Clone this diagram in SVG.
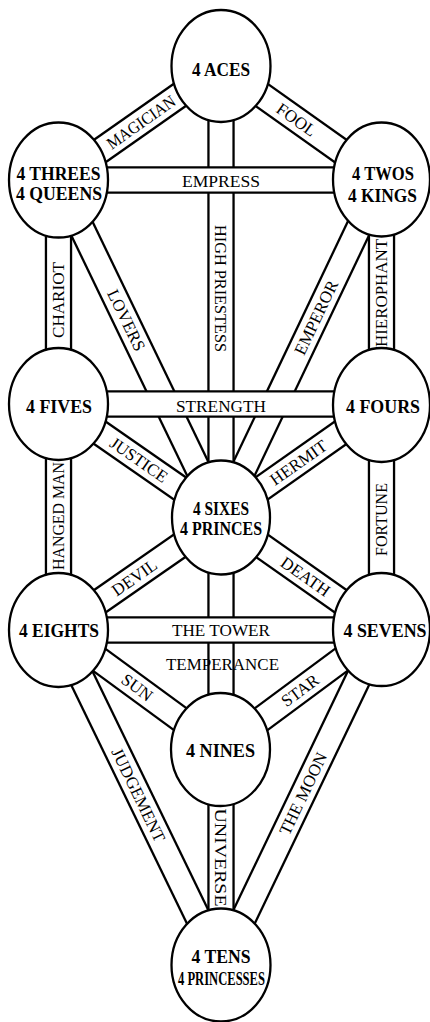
<svg xmlns="http://www.w3.org/2000/svg" width="430" height="1022" viewBox="0 0 430 1022">
<style>
.bo{stroke:#000;stroke-width:27.4;fill:none}
.bi{stroke:#fff;stroke-width:22.8;fill:none}
.n{fill:#fff;stroke:#000;stroke-width:2.3}
.t{font-family:"Liberation Serif","Times New Roman",serif;font-weight:bold;font-size:18px;text-anchor:middle;fill:#000}
.l{font-family:"Liberation Serif","Times New Roman",serif;font-size:17px;text-anchor:middle;fill:#000}
</style>
<defs>
<path id="p-magician" d="M58.5 180L221 66"/>
<path id="p-fool" d="M221 66L381.5 180"/>
<path id="p-priestess" d="M221 66L221 517"/>
<path id="p-emperor" d="M381.5 180L221 517"/>
<path id="p-lovers" d="M58.5 180L221 517"/>
<path id="p-chariot" d="M58.5 180L58.5 404"/>
<path id="p-hierophant" d="M381.5 180L381.5 404"/>
<path id="p-justice" d="M58.5 404L221 517"/>
<path id="p-hermit" d="M381.5 404L221 517"/>
<path id="p-hanged" d="M58.5 404L58.5 630"/>
<path id="p-fortune" d="M381.5 404L381.5 630"/>
<path id="p-devil" d="M58.5 630L221 517"/>
<path id="p-death" d="M381.5 630L221 517"/>
<path id="p-temperance" d="M221 517L221 749"/>
<path id="p-sun" d="M58.5 630L221 749"/>
<path id="p-star" d="M381.5 630L221 749"/>
<path id="p-judgement" d="M58.5 630L221 965"/>
<path id="p-moon" d="M381.5 630L221 965"/>
<path id="p-universe" d="M221 749L221 965"/>
<path id="p-empress" d="M58.5 180L381.5 180"/>
<path id="p-strength" d="M58.5 404L381.5 404"/>
<path id="p-tower" d="M58.5 630L381.5 630"/>
</defs>
<rect width="430" height="1022" fill="#fff"/>
<g id="connectors">
<g id="paths-back">
<use href="#p-magician" class="bo"/><use href="#p-fool" class="bo"/><use href="#p-priestess" class="bo"/><use href="#p-emperor" class="bo"/><use href="#p-lovers" class="bo"/><use href="#p-chariot" class="bo"/><use href="#p-hierophant" class="bo"/><use href="#p-justice" class="bo"/><use href="#p-hermit" class="bo"/><use href="#p-hanged" class="bo"/><use href="#p-fortune" class="bo"/><use href="#p-devil" class="bo"/><use href="#p-death" class="bo"/><use href="#p-temperance" class="bo"/><use href="#p-sun" class="bo"/><use href="#p-star" class="bo"/><use href="#p-judgement" class="bo"/><use href="#p-moon" class="bo"/><use href="#p-universe" class="bo"/>
<use href="#p-magician" class="bi"/><use href="#p-fool" class="bi"/><use href="#p-priestess" class="bi"/><use href="#p-emperor" class="bi"/><use href="#p-lovers" class="bi"/><use href="#p-chariot" class="bi"/><use href="#p-hierophant" class="bi"/><use href="#p-justice" class="bi"/><use href="#p-hermit" class="bi"/><use href="#p-hanged" class="bi"/><use href="#p-fortune" class="bi"/><use href="#p-devil" class="bi"/><use href="#p-death" class="bi"/><use href="#p-temperance" class="bi"/><use href="#p-sun" class="bi"/><use href="#p-star" class="bi"/><use href="#p-judgement" class="bi"/><use href="#p-moon" class="bi"/><use href="#p-universe" class="bi"/>
</g>
<g id="paths-front">
<use href="#p-empress" class="bo"/><use href="#p-empress" class="bi"/>
<use href="#p-strength" class="bo"/><use href="#p-strength" class="bi"/>
<use href="#p-tower" class="bo"/><use href="#p-tower" class="bi"/>
</g>
<g id="connector-labels">
<text class="l" transform="translate(141 122.3) rotate(-35.13)" y="5.8" textLength="80" lengthAdjust="spacingAndGlyphs">MAGICIAN</text>
<text class="l" transform="translate(296.5 119.7) rotate(35.38)" y="5.8">FOOL</text>
<text class="l" x="221" y="186.5" textLength="78" lengthAdjust="spacingAndGlyphs">EMPRESS</text>
<text class="l" transform="translate(221 288.5) rotate(90)" y="5.8" textLength="127" lengthAdjust="spacingAndGlyphs">HIGH PRIESTESS</text>
<text class="l" transform="translate(316 317.5) rotate(-64.53)" y="5.8">EMPEROR</text>
<text class="l" transform="translate(126.4 320.2) rotate(64.33)" y="5.8">LOVERS</text>
<text class="l" transform="translate(58.5 300) rotate(-90)" y="5.8" textLength="76" lengthAdjust="spacingAndGlyphs">CHARIOT</text>
<text class="l" transform="translate(381.5 293) rotate(-90)" y="5.8" textLength="108" lengthAdjust="spacingAndGlyphs">HIEROPHANT</text>
<text class="l" x="221" y="412" textLength="90" lengthAdjust="spacingAndGlyphs">STRENGTH</text>
<text class="l" transform="translate(139 459.8) rotate(34.9)" y="5.8">JUSTICE</text>
<text class="l" transform="translate(298.4 462.5) rotate(-35.15)" y="5.8">HERMIT</text>
<text class="l" transform="translate(58.5 516) rotate(-90)" y="5.8" textLength="108" lengthAdjust="spacingAndGlyphs">HANGED MAN</text>
<text class="l" transform="translate(381.5 519.5) rotate(-90)" y="5.8" textLength="73" lengthAdjust="spacingAndGlyphs">FORTUNE</text>
<text class="l" transform="translate(134.4 577.4) rotate(-34.9)" y="5.8">DEVIL</text>
<text class="l" transform="translate(305.5 576.5) rotate(35.15)" y="5.8">DEATH</text>
<text class="l" x="221" y="635.5" textLength="98" lengthAdjust="spacingAndGlyphs">THE TOWER</text>
<text class="l" x="222.5" y="670" textLength="113" lengthAdjust="spacingAndGlyphs">TEMPERANCE</text>
<text class="l" transform="translate(137.2 687.4) rotate(36.3)" y="5.8">SUN</text>
<text class="l" transform="translate(300 690.4) rotate(-36.55)" y="5.8">STAR</text>
<text class="l" transform="translate(138.5 795) rotate(64.19)" y="5.8">JUDGEMENT</text>
<text class="l" transform="translate(303.1 793.6) rotate(-64.4)" y="5.8">THE MOON</text>
<text class="l" transform="translate(221 857.5) rotate(90)" y="5.8" textLength="98" lengthAdjust="spacingAndGlyphs">UNIVERSE</text>
</g>
</g>
<g id="node-aces"><ellipse class="n" cx="221" cy="66" rx="49.5" ry="56"/><text class="t" x="221" y="76" textLength="58" lengthAdjust="spacingAndGlyphs">4 ACES</text></g>
<g id="node-threes"><ellipse class="n" cx="58.5" cy="180" rx="49.5" ry="57.5"/><text class="t" x="58.5" y="180" textLength="84" lengthAdjust="spacingAndGlyphs">4 THREES</text><text class="t" x="59" y="200" textLength="86" lengthAdjust="spacingAndGlyphs">4 QUEENS</text></g>
<g id="node-twos"><ellipse class="n" cx="381.5" cy="179.5" rx="48.5" ry="57"/><text class="t" x="383" y="180" textLength="62" lengthAdjust="spacingAndGlyphs">4 TWOS</text><text class="t" x="382.5" y="202" textLength="69" lengthAdjust="spacingAndGlyphs">4 KINGS</text></g>
<g id="node-fives"><ellipse class="n" cx="58.5" cy="404" rx="49.5" ry="56"/><text class="t" x="59" y="413" textLength="66" lengthAdjust="spacingAndGlyphs">4 FIVES</text></g>
<g id="node-fours"><ellipse class="n" cx="381.5" cy="405" rx="48.5" ry="57"/><text class="t" x="383" y="413" textLength="74" lengthAdjust="spacingAndGlyphs">4 FOURS</text></g>
<g id="node-sixes"><ellipse class="n" cx="221" cy="517.5" rx="49" ry="57"/><text class="t" x="221" y="515" textLength="56" lengthAdjust="spacingAndGlyphs">4 SIXES</text><text class="t" x="221" y="535" textLength="82" lengthAdjust="spacingAndGlyphs">4 PRINCES</text></g>
<g id="node-eights"><ellipse class="n" cx="58.5" cy="630" rx="49.5" ry="57"/><text class="t" x="59" y="637" textLength="80" lengthAdjust="spacingAndGlyphs">4 EIGHTS</text></g>
<g id="node-sevens"><ellipse class="n" cx="381.5" cy="629.5" rx="48.5" ry="56.5"/><text class="t" x="385" y="637" textLength="83" lengthAdjust="spacingAndGlyphs">4 SEVENS</text></g>
<g id="node-nines"><ellipse class="n" cx="220.5" cy="749.5" rx="49.5" ry="56.5"/><text class="t" x="220.5" y="757" textLength="69" lengthAdjust="spacingAndGlyphs">4 NINES</text></g>
<g id="node-tens"><ellipse class="n" cx="221" cy="965" rx="49.5" ry="56.5"/><text class="t" x="221" y="963" textLength="59" lengthAdjust="spacingAndGlyphs">4 TENS</text><text class="t" x="221.5" y="985" textLength="87" lengthAdjust="spacingAndGlyphs">4 PRINCESSES</text></g>
</svg>
